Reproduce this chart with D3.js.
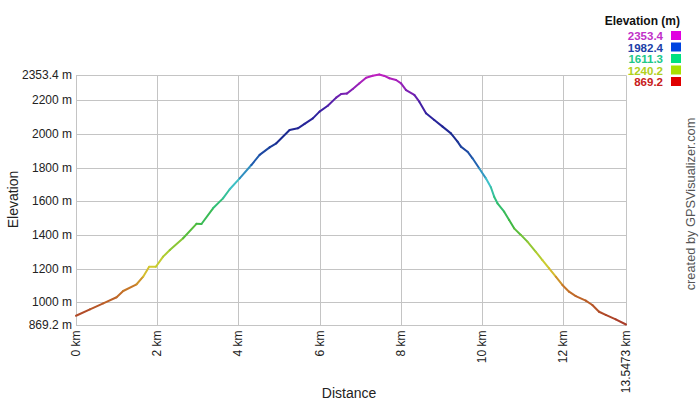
<!DOCTYPE html>
<html><head><meta charset="utf-8">
<script src="https://cdn.jsdelivr.net/npm/d3@7/dist/d3.min.js"></script>
<style>
html,body{margin:0;padding:0;background:#fff;}
text{font-family:"Liberation Sans",Arial,sans-serif;}
</style></head>
<body><svg id="c" width="700" height="400"></svg>
<script>
const distKm = [0,0.344,0.671,1.0,1.163,1.492,1.654,1.802,1.967,2.146,2.311,2.638,2.967,3.09,3.375,3.621,3.786,4.031,4.319,4.523,4.769,4.934,5.261,5.465,5.63,5.834,5.998,6.202,6.409,6.532,6.67,6.817,6.982,7.146,7.308,7.47,7.596,7.719,7.884,8.007,8.13,8.333,8.456,8.621,8.825,9.029,9.235,9.398,9.481,9.644,9.767,9.931,10.096,10.219,10.3,10.382,10.546,10.669,10.792,10.957,11.119,11.326,11.488,11.653,11.818,11.98,12.145,12.31,12.556,12.718,12.883,13.048,13.294,13.5473];
const elevM = [921,959,995,1031,1068,1108,1153,1212,1212,1272,1311,1381,1467,1466,1559,1618,1672,1737,1816,1876,1921,1945,2024,2034,2060,2093,2133,2168,2216,2238,2240,2267,2301,2334,2346,2353.4,2345,2331,2321,2301,2261,2232,2192,2123,2083,2044,2004,1955,1925,1895,1856,1797,1737,1684,1628,1589,1539,1490,1440,1401,1361,1301,1252,1203,1153,1104,1064,1038,1011,985,945,926,900,869.2];
const yTicks = [869.2,1000,1200,1400,1600,1800,2000,2200,2353.4];
const xTicks = [0,2,4,6,8,10,12,13.5473];
const legendValues = [2353.4,1982.4,1611.3,1240.2,869.2];
const legendSwatch = ["#e000e0","#0044e0","#00e080","#a8e000","#e00000"];
const legendText = ["#c030c8","#2040a8","#20c888","#b0d020","#c82020"];
// line colour stops (elevation -> colour)
const colourStops = [869.2,1100,1200,1300,1460,1611,1720,1830,1982,2130,2230,2353.4];
const colourValues = ["#a83828","#c87a28","#d8cc30","#a8cc30","#40b840","#30c080","#40c0d0","#2060b0","#1a2a90","#3020a0","#7020b0","#c020c0"];

const svg = d3.select("#c");
const L=76, R=626, T=74.5, B=324.5;
const x = d3.scaleLinear().domain([0,13.5473]).range([L,R]);
const y = d3.scaleLinear().domain([869.2,2353.4]).range([B,T]);
const col = d3.scaleLinear().domain(colourStops).range(colourValues).interpolate(d3.interpolateRgb);
const crisp = v => Math.round(v)+0.5;

const g = svg.append("g");
g.selectAll("line.h").data(yTicks).join("line")
  .attr("x1",L).attr("x2",crisp(R)).attr("y1",d=>crisp(y(d))).attr("y2",d=>crisp(y(d)))
  .attr("stroke","#c4c4c4").attr("stroke-width",1);
g.selectAll("line.v").data(xTicks).join("line")
  .attr("y1",crisp(T)).attr("y2",crisp(B)).attr("x1",d=>crisp(x(d))).attr("x2",d=>crisp(x(d)))
  .attr("stroke","#c4c4c4").attr("stroke-width",1);

g.selectAll("text.yl").data(yTicks).join("text")
  .attr("x",L-4).attr("y",d=>y(d)+4).attr("text-anchor","end")
  .attr("font-size",12).attr("fill","#222")
  .text(d=>d+" m");
g.selectAll("text.xl").data(xTicks).join("text")
  .attr("transform",d=>`translate(${x(d)+4},${B+6}) rotate(-90)`)
  .attr("text-anchor","end").attr("font-size",12).attr("fill","#222")
  .text(d=>d+" km");

svg.append("text").attr("transform",`translate(18,${(T+B)/2}) rotate(-90)`)
  .attr("text-anchor","middle").attr("font-size",14).attr("fill","#222").text("Elevation");
svg.append("text").attr("x",349).attr("y",398)
  .attr("text-anchor","middle").attr("font-size",14).attr("fill","#222").text("Distance");
svg.append("text").attr("transform",`translate(695,204) rotate(-90)`)
  .attr("text-anchor","middle").attr("font-size",12.8).attr("fill","#555").text("created by GPSVisualizer.com");

const pts = distKm.map((d,i)=>[d,elevM[i]]);
const segs = d3.pairs(pts);
g.selectAll("line.seg").data(segs).join("line")
  .attr("x1",d=>x(d[0][0])).attr("y1",d=>y(d[0][1]))
  .attr("x2",d=>x(d[1][0])).attr("y2",d=>y(d[1][1]))
  .attr("stroke",d=>col((d[0][1]+d[1][1])/2))
  .attr("stroke-width",2).attr("stroke-linecap","round");

svg.append("text").attr("x",680).attr("y",25).attr("text-anchor","end")
  .attr("font-size",12).attr("font-weight","bold").attr("fill","#111").text("Elevation (m)");
const lg = svg.append("g");
lg.selectAll("text").data(legendValues).join("text")
  .attr("x",663).attr("y",(d,i)=>40+i*11.5).attr("text-anchor","end")
  .attr("font-size",11.5).attr("font-weight","bold")
  .attr("fill",(d,i)=>legendText[i]).text(d=>d.toFixed(1));
lg.selectAll("rect").data(legendValues).join("rect")
  .attr("x",671).attr("y",(d,i)=>31+i*11.5).attr("width",10).attr("height",9)
  .attr("fill",(d,i)=>legendSwatch[i]);
</script></body></html>
